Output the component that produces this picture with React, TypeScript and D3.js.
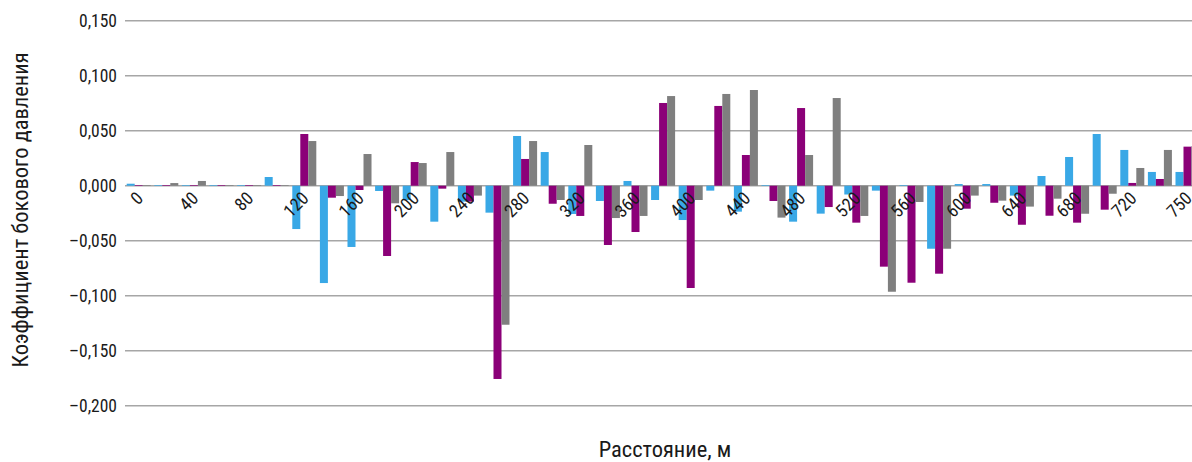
import React from "react";
import * as d3 from "d3";

// Distance along the section, m
const distances: number[] = [
  0, 20, 40, 60, 80, 100, 120, 140, 160, 180, 200, 220, 240, 260, 280, 300, 320, 340, 360, 380,
  400, 420, 440, 460, 480, 500, 520, 540, 560, 580, 600, 620, 640, 660, 680, 700, 720, 740, 750,
];

// Lateral pressure coefficient, three series per distance
const seriesA: number[] = [
  0.0018, 0.0006, 0.0006, 0.0006, 0.0006, 0.0079, -0.0394, -0.0885, -0.0557, -0.0048, -0.013,
  -0.0327, -0.0145, -0.0245, 0.0452, 0.0306, -0.0257, -0.0139, 0.0043, -0.013, -0.0312, -0.0045,
  -0.0236, 0.0006, -0.0327, -0.0254, -0.008, -0.0045, 0.0006, -0.0573, 0.0015, 0.0015, -0.009,
  0.0088, 0.0261, 0.047, 0.0325, 0.0125, 0.0125,
];
const seriesB: number[] = [
  0.0006, 0.0006, 0.0006, 0.0006, 0.0006, 0.0006, 0.047, -0.0109, -0.0039, -0.0639, 0.0215,
  -0.0027, -0.0145, -0.1757, 0.0243, -0.0164, -0.0275, -0.0539, -0.0421, 0.0752, -0.093, 0.0725,
  0.0279, -0.0139, 0.0706, -0.0194, -0.0336, -0.0736, -0.0882, -0.08, -0.0209, -0.0155, -0.0355,
  -0.0273, -0.0336, -0.0218, 0.0025, 0.0061, 0.0355,
];
const seriesC: number[] = [
  0.0006, 0.0024, 0.0043, 0.0006, 0.0006, 0.0006, 0.0406, -0.0094, 0.0288, -0.016, 0.0206, 0.0306,
  -0.009, -0.1264, 0.0406, -0.013, 0.037, -0.0294, -0.0275, 0.0815, -0.013, 0.0834, 0.087, -0.029,
  0.0279, 0.0797, -0.0275, -0.0964, -0.0148, -0.0573, -0.009, -0.0136, -0.019, -0.0118, -0.0255,
  -0.0073, 0.0161, 0.0325, 0.036,
];

const seriesKeys = ["a", "b", "c"];
const seriesColors = ["#39A8E6", "#8B0078", "#7F7F7F"];

const yTicks: number[] = [0.15, 0.1, 0.05, 0, -0.05, -0.1, -0.15, -0.2];
const fmtTick = (v: number) =>
  (v < 0 ? "\u2013" : "") + Math.abs(v).toFixed(3).replace(".", ",");

const W = 1192;
const H = 462;
const FONT = "'Liberation Sans Narrow', 'Roboto Condensed', 'DejaVu Sans Condensed', sans-serif";

export default function App() {
  const x = d3
    .scaleBand<string>()
    .domain(distances.map(String))
    .range([124.9, 124.9 + 39 * 27.6])
    .paddingInner(0.13)
    .paddingOuter(0.065);
  const xs = d3.scaleBand<string>().domain(seriesKeys).range([0, x.bandwidth()]);
  const y = d3.scaleLinear().domain([-0.2, 0.15]).range([405.7, 20.7]);
  const allSeries = [seriesA, seriesB, seriesC];

  return (
    <svg
      width={W}
      height={H}
      style={{ position: "absolute", left: 0, top: 0, background: "#fff" }}
      fontFamily={FONT}
    >
      {/* horizontal gridlines */}
      {yTicks.map((t) => (
        <line
          key={"g" + t}
          x1={125}
          x2={W}
          y1={y(t)}
          y2={y(t)}
          stroke="#A6A6A6"
          strokeWidth={1.5}
        />
      ))}
      {/* y tick labels */}
      {yTicks.map((t) => (
        <text
          key={"t" + t}
          x={117}
          y={y(t)}
          dy="0.35em"
          textAnchor="end"
          fontSize={17.5}
          fill="#1a1a1a"
        >
          {fmtTick(t)}
        </text>
      ))}
      {/* bars */}
      {distances.map((d, i) => (
        <g key={"c" + d} transform={`translate(${x(String(d))},0)`}>
          {allSeries.map((s, k) => {
            const v = s[i];
            return (
              <rect
                key={k}
                x={xs(seriesKeys[k])}
                width={xs.bandwidth()}
                y={Math.min(y(v), y(0))}
                height={Math.abs(y(v) - y(0))}
                fill={seriesColors[k]}
              />
            );
          })}
        </g>
      ))}
      {/* x tick labels, every other category */}
      {distances.map((d, i) =>
        i % 2 === 0 ? (
          <text
            key={"x" + d}
            transform={`translate(${(x(String(d)) as number) + x.bandwidth() / 2 - 4},${190}) rotate(-45)`}
            textAnchor="end"
            dy="0.75em"
            fontSize={18}
            fill="#1a1a1a"
          >
            {d}
          </text>
        ) : null
      )}
      {/* axis titles */}
      <text x={665} y={457} textAnchor="middle" fontSize={22.5} fill="#1a1a1a">
        Расстояние, м
      </text>
      <text
        transform={`translate(28,${210}) rotate(-90)`}
        textAnchor="middle"
        fontSize={22.5}
        fill="#1a1a1a"
      >
        Коэффициент бокового давления
      </text>
    </svg>
  );
}
